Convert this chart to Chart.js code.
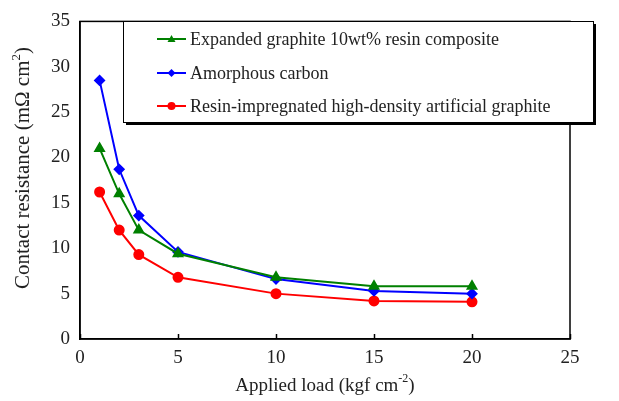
<!DOCTYPE html>
<html>
<head>
<meta charset="utf-8">
<script src="https://cdn.jsdelivr.net/npm/chart.js@4/dist/chart.umd.min.js"></script>
<style>
  html, body { margin: 0; padding: 0; background: #fff; }
  #wrap { width: 619px; height: 401px; position: relative; }
</style>
</head>
<body>
<div id="wrap"><canvas id="crChart" width="619" height="401"></canvas></div>
<script>
// ---------- Data: contact resistance vs applied load ----------
const LOADS     = [1, 2, 3, 5, 10, 15, 20];
const EXPANDED  = [21.0, 16.0, 12.0, 9.4, 6.8, 5.8, 5.8];
const AMORPHOUS = [28.5, 18.7, 13.6, 9.6, 6.6, 5.3, 5.0];
const RESIN     = [16.2, 12.0, 9.3, 6.8, 5.0, 4.2, 4.1];

const SERIES_NAMES = [
  'Expanded graphite 10wt% resin composite',
  'Amorphous carbon',
  'Resin-impregnated high-density artificial graphite'
];

const X_TICKS = [0, 5, 10, 15, 20, 25];
const Y_TICKS = [0, 5, 10, 15, 20, 25, 30, 35];

const SERIF = "'Liberation Serif', 'Times New Roman', serif";
const pts = ys => LOADS.map((x, i) => ({ x, y: ys[i] }));

const GREEN = '#008000', BLUE = '#0000ff', RED = '#ff0000';

// draws "main" + superscript + tail starting at x0 on the current baseline
function supText(c, main, sup, tail, size, supSize, x0) {
  c.font = size + 'px ' + SERIF;
  const w1 = c.measureText(main).width;
  c.fillText(main, x0, 0);
  c.font = supSize + 'px ' + SERIF;
  const w2 = c.measureText(sup).width;
  c.fillText(sup, x0 + w1, -size * 0.45);
  c.font = size + 'px ' + SERIF;
  c.fillText(tail, x0 + w1 + w2, 0);
}
function supWidth(c, main, sup, tail, size, supSize) {
  c.font = size + 'px ' + SERIF;
  let w = c.measureText(main).width + c.measureText(tail).width;
  c.font = supSize + 'px ' + SERIF;
  return w + c.measureText(sup).width;
}

// frame, inner x ticks, axis titles with superscripts, boxed legend
const decor = {
  id: 'decor',
  afterDraw(chart) {
    const c = chart.ctx, a = chart.chartArea;
    const xs = chart.scales.x;
    c.save();
    c.strokeStyle = '#000';
    c.lineWidth = 1.5;
    c.strokeRect(a.left, a.top, a.right - a.left, a.bottom - a.top);

    X_TICKS.forEach(v => {
      const px = Math.round(xs.getPixelForValue(v)) + 0.5;
      c.beginPath(); c.moveTo(px, a.bottom); c.lineTo(px, a.bottom - 5); c.stroke();
    });

    c.fillStyle = '#222';
    c.textBaseline = 'alphabetic';

    // x title
    let w = supWidth(c, 'Applied load (kgf cm', '-2', ')', 19, 12);
    c.save();
    c.translate((a.left + a.right) / 2 - w / 2, 391);
    supText(c, 'Applied load (kgf cm', '-2', ')', 19, 12, 0);
    c.restore();

    // y title, rotated
    w = supWidth(c, 'Contact resistance (m\u03A9 cm', '2', ')', 21, 13);
    c.save();
    c.translate(29, 168);
    c.rotate(-Math.PI / 2);
    supText(c, 'Contact resistance (m\u03A9 cm', '2', ')', 21, 13, -w / 2);
    c.restore();

    // legend box with drop shadow
    const bx = 123, by = 21, bw = 470, bh = 101;
    c.fillStyle = '#000';
    c.fillRect(bx + 3, by + 3, bw, bh);
    c.fillStyle = '#fff';
    c.fillRect(bx, by, bw, bh);
    c.lineWidth = 1;
    c.strokeStyle = '#000';
    c.strokeRect(bx + 0.5, by + 0.5, bw, bh);

    const rows = [39, 73, 106];
    chart.data.datasets.forEach((ds, i) => {
      const y = rows[i];
      c.strokeStyle = ds.borderColor;
      c.lineWidth = 2;
      c.beginPath(); c.moveTo(157, y); c.lineTo(186, y); c.stroke();
      c.fillStyle = ds.backgroundColor;
      c.beginPath();
      if (ds.pointStyle === 'triangle') {
        c.moveTo(171.5, y - 4); c.lineTo(175.5, y + 3); c.lineTo(167.5, y + 3);
      } else if (ds.pointStyle === 'rectRot') {
        c.moveTo(171.5, y - 4); c.lineTo(175.5, y); c.lineTo(171.5, y + 4); c.lineTo(167.5, y);
      } else {
        c.arc(171.5, y, 4, 0, Math.PI * 2);
      }
      c.closePath(); c.fill();
      c.fillStyle = '#222';
      c.font = '18px ' + SERIF;
      c.textBaseline = 'middle';
      c.fillText(SERIES_NAMES[i], 190, y + 1);
    });
    c.restore();
  }
};

new Chart(document.getElementById('crChart'), {
  type: 'scatter',
  data: {
    datasets: [
      { label: SERIES_NAMES[0], data: pts(EXPANDED), borderColor: GREEN, backgroundColor: GREEN,
        pointStyle: 'triangle', pointRadius: 5, borderWidth: 2, showLine: true },
      { label: SERIES_NAMES[1], data: pts(AMORPHOUS), borderColor: BLUE, backgroundColor: BLUE,
        pointStyle: 'rectRot', pointRadius: 4.5, borderWidth: 2, showLine: true },
      { label: SERIES_NAMES[2], data: pts(RESIN), borderColor: RED, backgroundColor: RED,
        pointStyle: 'circle', pointRadius: 4.5, borderWidth: 2, showLine: true }
    ]
  },
  options: {
    responsive: false,
    animation: false,
    layout: { padding: { top: 12, right: 49, left: 0, bottom: 0 } },
    plugins: { legend: { display: false }, tooltip: { enabled: false } },
    scales: {
      x: {
        type: 'linear', min: 0, max: 25,
        afterFit: s => { s.height = 62; },
        afterBuildTicks: s => { s.ticks = X_TICKS.map(v => ({ value: v })); },
        grid: { display: false, drawTicks: false },
        border: { display: true, color: '#000', width: 1.5 },
        ticks: { color: '#222', padding: 8, font: { family: SERIF, size: 19 } }
      },
      y: {
        type: 'linear', min: 0, max: 35,
        afterFit: s => { s.width = 80; },
        afterBuildTicks: s => { s.ticks = Y_TICKS.map(v => ({ value: v })); },
        grid: { display: false, drawTicks: false },
        border: { display: true, color: '#000', width: 1.5 },
        ticks: { color: '#222', padding: 10, font: { family: SERIF, size: 19 } }
      }
    }
  },
  plugins: [decor]
});
</script>
</body>
</html>
